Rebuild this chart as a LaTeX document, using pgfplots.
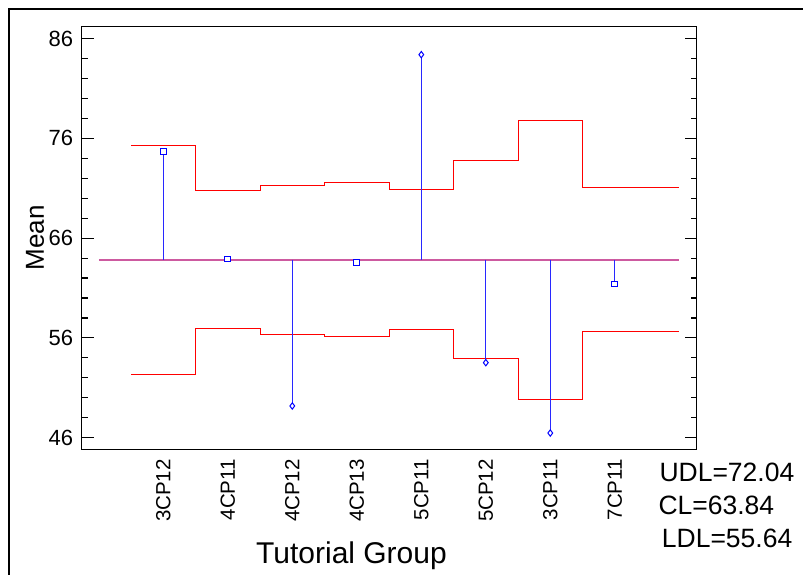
\documentclass[border=0pt]{standalone}
\usepackage{pgfplots}
\pgfplotsset{compat=1.18}
\usepackage{fontspec}
\setmainfont{Liberation Sans}
\definecolor{clcol}{RGB}{205,90,160}
\definecolor{stemblue}{RGB}{40,40,255}
\begin{document}
\begin{tikzpicture}
\useasboundingbox (0,0) rectangle (803pt,574pt);
\draw[line width=2.5pt] (9pt,-2pt) -- (9pt,565pt) -- (805pt,565pt);
\begin{axis}[
  at={(81.7pt,124.7pt)}, anchor=south west,
  scale only axis, width=615pt, height=422.6pt,
  xmin=-1.265, xmax=8.27, ymin=44.84, ymax=87.18,
  axis line style={line width=1.3pt},
  xtick={0,...,7},
  xticklabels={3CP12,4CP11,4CP12,4CP13,5CP11,5CP12,3CP11,7CP11},
  xtick style={draw=none},
  xticklabel style={rotate=90, anchor=east, inner xsep=9.7pt, inner ysep=0pt, font=\fontsize{20.5}{20.5}\selectfont},
  ytick={46,56,66,76,86},
  minor y tick num=4,
  tick align=inside,
  major tick length=12pt, minor tick length=6pt,
  ytick style={line width=1.1pt, black},
  minor tick style={line width=0.9pt, black},
  yticklabel style={anchor=east, inner sep=0pt, xshift=-8.4pt, font=\fontsize{22}{22}\selectfont},
  /pgf/number format/assume math mode=true,
  clip=false,
  every axis plot/.append style={line cap=butt},
]
% center line
\addplot[draw=clcol, line width=1.8pt] coordinates {(-1,63.84) (8,63.84)};
% upper decision limits
\addplot[draw=red, line width=1pt, const plot mark left] coordinates {
(-0.5,75.30) (0.5,70.72) (1.5,71.29) (2.5,71.54) (3.5,70.84) (4.5,73.73) (5.5,77.83) (6.5,71.02) (8,71.02)};
% lower decision limits
\addplot[draw=red, line width=1pt, const plot mark left] coordinates {
(-0.5,52.38) (0.5,56.96) (1.5,56.39) (2.5,56.14) (3.5,56.84) (4.5,53.95) (5.5,49.85) (6.5,56.66) (8,56.66)};
% stems
\addplot[draw=stemblue, line width=1.1pt] coordinates {(0,63.84) (0,74.66)};
\addplot[draw=stemblue, line width=1.1pt] coordinates {(1,63.84) (1,63.90)};
\addplot[draw=stemblue, line width=1.1pt] coordinates {(2,63.84) (2,49.18)};
\addplot[draw=stemblue, line width=1.1pt] coordinates {(3,63.84) (3,63.57)};
\addplot[draw=stemblue, line width=1.1pt] coordinates {(4,63.84) (4,84.38)};
\addplot[draw=stemblue, line width=1.1pt] coordinates {(5,63.84) (5,53.52)};
\addplot[draw=stemblue, line width=1.1pt] coordinates {(6,63.84) (6,46.47)};
\addplot[draw=stemblue, line width=1.1pt] coordinates {(7,63.84) (7,61.40)};
% within limits
\addplot[only marks, draw=blue, mark=square*, mark size=2.8pt, mark options={draw=blue, line width=1pt, fill=white}] coordinates {
(0,74.66) (1,63.90) (3,63.57) (7,61.40)};
% outside limits
\addplot[only marks, draw=blue, mark=diamond*, mark size=3.2pt, mark options={draw=blue, line width=1pt, fill=white}] coordinates {
(2,49.18) (4,84.38) (5,53.52) (6,46.47)};
\end{axis}
\node[rotate=90, font=\fontsize{26}{26}\selectfont] at (35pt,336.2pt) {Mean};
\node[anchor=base, inner sep=0pt, font=\fontsize{30}{30}\selectfont] at (351.5pt,11pt) {Tutorial Group};
\node[anchor=base west, inner sep=0pt, font=\fontsize{26.5}{26.5}\selectfont] at (659.3pt,92.3pt) {UDL=72.04};
\node[anchor=base west, inner sep=0pt, font=\fontsize{26.5}{26.5}\selectfont] at (658.3pt,60pt) {CL=63.84};
\node[anchor=base west, inner sep=0pt, font=\fontsize{26.5}{26.5}\selectfont] at (661.7pt,26.3pt) {LDL=55.64};
\end{tikzpicture}
\end{document}
